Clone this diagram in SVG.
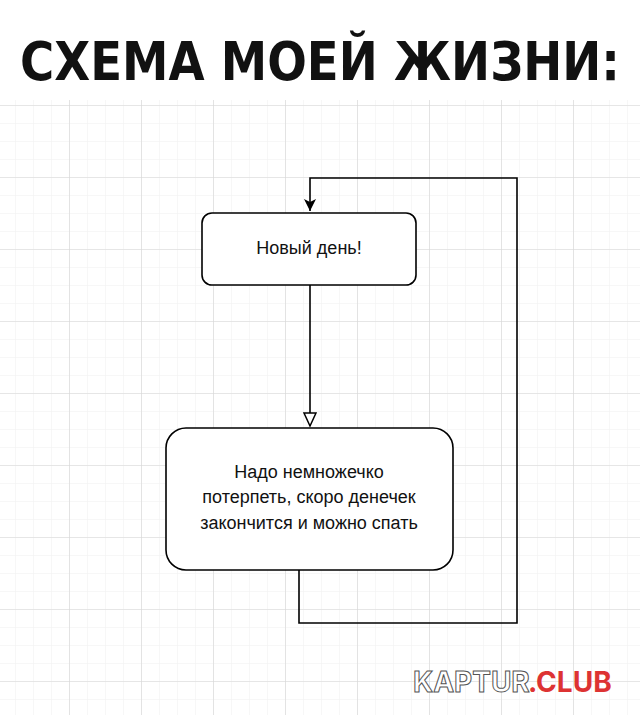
<svg xmlns="http://www.w3.org/2000/svg" width="640" height="715" viewBox="0 0 640 715">
<defs>
<pattern id="minor" x="15" y="15" width="18" height="18" patternUnits="userSpaceOnUse"><path d="M0 0V18M0 0H18" fill="none" stroke="#efefef" stroke-width="1"/></pattern>
<pattern id="major" x="69" y="105" width="72" height="72" patternUnits="userSpaceOnUse"><path d="M0 0V72M0 0H72" fill="none" stroke="#d6d6d6" stroke-width="1.2"/></pattern>
<marker id="open" markerWidth="16" markerHeight="16" refX="14" refY="7" orient="auto" markerUnits="userSpaceOnUse"><path d="M1 1L14 7L1 13Z" fill="#fff" stroke="#000" stroke-width="1.5"/></marker>
<marker id="fill" markerWidth="14" markerHeight="14" refX="12" refY="6" orient="auto" markerUnits="userSpaceOnUse"><path d="M0 0L12 6L0 12L3 6Z" fill="#000"/></marker>
</defs>
<style>
.box{fill:#fff;stroke:#000;stroke-width:1.6}
.t{font-family:"Liberation Sans",Arial,sans-serif;font-size:18px;fill:#111;text-anchor:middle}
.c{fill:none;stroke:#000;stroke-width:1.6}
</style>
<rect width="640" height="715" fill="#fff"/>
<rect x="0" y="100" width="640" height="615" fill="url(#minor)"/>
<rect x="0" y="100" width="640" height="615" fill="url(#major)"/>
<text x="20" y="80" font-family="DejaVu Sans Condensed,DejaVu Sans,sans-serif" font-weight="bold" font-size="54" fill="#111" textLength="600" lengthAdjust="spacingAndGlyphs">СХЕМА МОЕЙ ЖИЗНИ:</text>
<g id="connectors">
<path class="c" d="M310 285V426" marker-end="url(#open)"/>
<path class="c" d="M299 570V623H517V178H310V211" marker-end="url(#fill)"/>
</g>
<g id="node1"><rect class="box" x="202" y="213" width="214" height="72" rx="10"/><text class="t" x="309" y="254">Новый день!</text></g>
<g id="node2"><rect class="box" x="166" y="428" width="287" height="142" rx="20"/>
<text class="t" x="309" y="478">Надо немножечко</text><text class="t" x="309" y="503">потерпеть, скоро денечек</text><text class="t" x="309" y="529">закончится и можно спать</text></g>
<text x="413" y="692" font-family="Inter,sans-serif" font-size="28" font-weight="bold" fill="#fff" stroke="#555" stroke-width="1">KAPTUR</text>
<text x="528" y="692" font-family="Inter,sans-serif" font-size="28" font-weight="bold" fill="#d33">.CLUB</text>
</svg>
